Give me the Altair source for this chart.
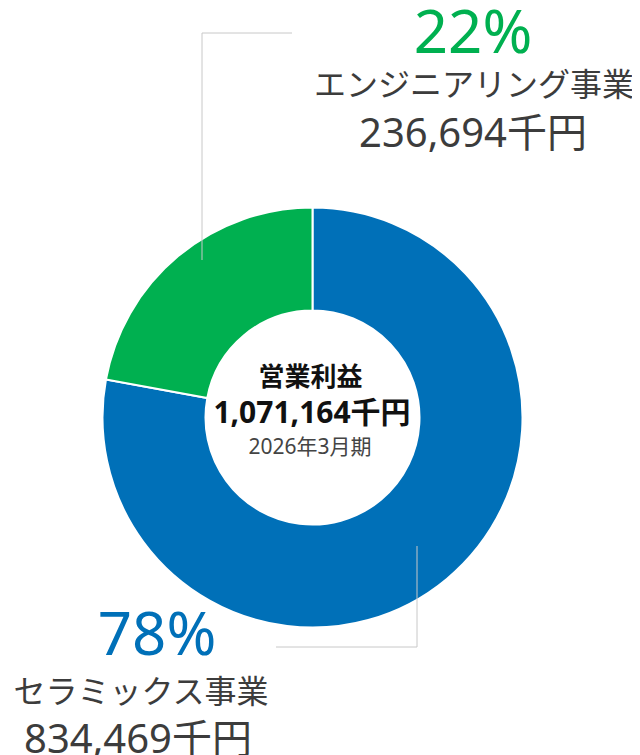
import altair as alt
import pandas as pd

segments = ["セラミックス事業", "エンジニアリング事業"]
values = [834469, 236694]
percents = ["78%", "22%"]
amounts = ["834,469千円", "236,694千円"]
colors = ["#0070b8", "#00b050"]
center_title = "営業利益"
center_total = "1,071,164千円"
center_period = "2026年3月期"

df = pd.DataFrame({"segment": segments, "value": values, "idx": list(range(len(segments)))})

FONT = "Noto Sans, Noto Sans CJK JP"
CX, CY = 304.5, 409.5

donut = alt.Chart(df).mark_arc(
    innerRadius=107, outerRadius=210, stroke="white", strokeWidth=2
).encode(
    theta=alt.Theta("value:Q", stack=True),
    color=alt.Color("segment:N", scale=alt.Scale(domain=segments, range=colors), legend=None),
    order=alt.Order("idx:Q"),
    x=alt.value(CX),
    y=alt.value(CY),
)

base = alt.Chart(pd.DataFrame({"a": [0]}))

def rule(x1, y1, x2, y2):
    return base.mark_rule(color="#c8c8c8", strokeWidth=1).encode(
        x=alt.value(x1), y=alt.value(y1), x2=alt.value(x2), y2=alt.value(y2)
    )

def text(t, x, y, size, color, weight="normal"):
    return base.mark_text(
        text=t, font=FONT, fontSize=size, color=color, fontWeight=weight,
        align="center", baseline="alphabetic"
    ).encode(x=alt.value(x), y=alt.value(y))

layers = [
    donut,
    rule(194, 252, 194, 25),
    rule(194, 25, 284, 25),
    rule(409, 538, 409, 639),
    rule(268, 639, 409, 639),
    text(percents[1], 465, 45, 60, colors[1]),
    text(segments[1], 466, 88, 32, "#3c3c3c"),
    text(amounts[1], 465, 139, 40, "#3c3c3c"),
    text(percents[0], 149, 647, 60, colors[0]),
    text(segments[0], 133, 695, 32, "#3c3c3c"),
    text(amounts[0], 130, 745, 40, "#3c3c3c"),
    text(center_title, 302.5, 378, 26, "#111111", "bold"),
    text(center_total, 304, 415, 30, "#111111", "bold"),
    text(center_period, 302, 446, 21, "#444444"),
]

chart = alt.layer(*layers).properties(
    width=624, height=747, padding=0, autosize=alt.AutoSizeParams(type="none")
).configure_view(stroke=None)

chart.save("out.html", embed_options={"renderer": "svg", "actions": False})
